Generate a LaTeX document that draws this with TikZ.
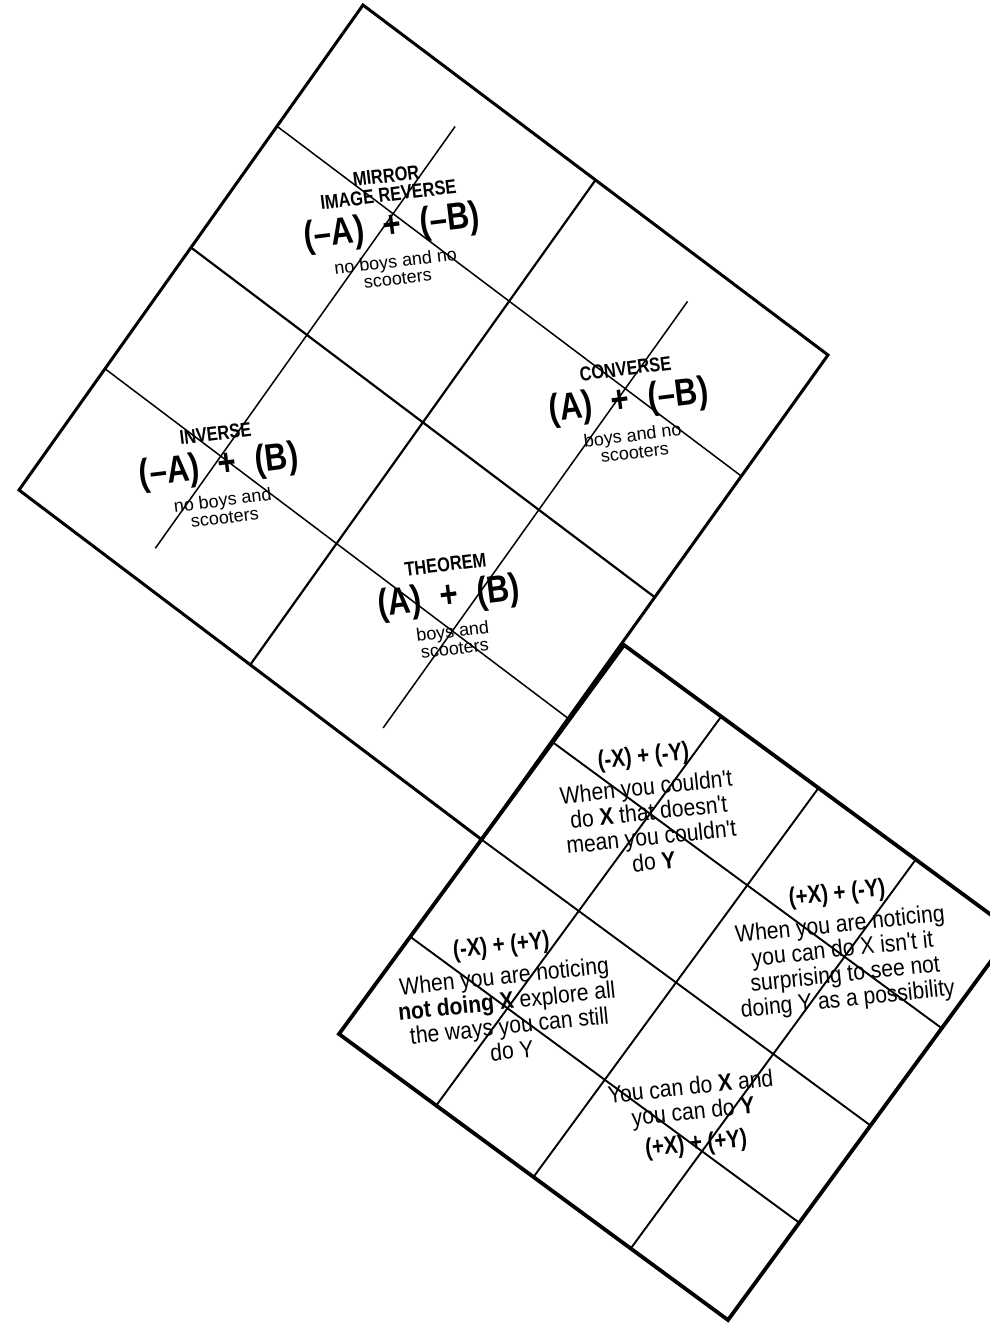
\documentclass[tikz,border=0pt]{standalone}
\usepackage{fontspec}
\setmainfont{Liberation Sans}
\newfontfamily\condfont[FakeStretch=0.82]{Liberation Sans}
\newfontfamily\bodyfont[FakeStretch=0.88]{Liberation Sans}
\usetikzlibrary{calc, positioning}
\newcommand{\pgap}{\hspace{0.5em}}

\begin{document}
\begin{tikzpicture}[
    x=0.5pt, y=-0.5pt,
    outer/.style={line width=1.5pt},
    outerb/.style={line width=1.9pt},
    midline/.style={line width=1.1pt},
    thinline/.style={line width=0.75pt},
    gridline/.style={line width=0.95pt},
    heading/.style={rotate=7, inner sep=1pt, align=center, font=\condfont\bfseries\fontsize{10}{9.5}\selectfont},
    formula/.style={rotate=7, inner sep=1pt, font=\condfont\bfseries\fontsize{19}{20}\selectfont},
    note/.style={rotate=7, inner sep=1pt, align=center, font=\fontsize{9}{8.8}\selectfont},
    caption/.style={rotate=6, inner sep=1pt, font=\condfont\bfseries\fontsize{12.5}{13}\selectfont},
    remark/.style={rotate=6, inner sep=1pt, align=center, font=\bodyfont\fontsize{12}{12.5}\selectfont}
]
    \useasboundingbox (0,0) rectangle (990,1324);
    \clip (0,0) rectangle (990,1324);

    % Corners of the upper square
    \coordinate (T1) at (363,5);
    \coordinate (R1) at (828,355);
    \coordinate (L1) at (19,490);
    % Corners of the lower square
    \coordinate (T2) at (624,645);
    \coordinate (R2) at (1013,931);
    \coordinate (B2) at (728,1320);
    \coordinate (L2) at (339,1034);
    \coordinate (B1) at ($(T2)!0.5!(L2)$);

    % Upper square: middle lines
    \draw[midline] ($(T1)!0.5!(R1)$) -- ($(L1)!0.5!(B1)$);
    \draw[midline] ($(T1)!0.5!(L1)$) -- ($(R1)!0.5!(B1)$);
    % Upper square: quarter lines
    \draw[thinline] ($(T1)!0.25!(L1)$) -- ($(R1)!0.25!(B1)$);
    \draw[thinline] ($(T1)!0.75!(L1)$) -- ($(R1)!0.75!(B1)$);
    \coordinate (uaT) at ($(T1)!0.25!(R1)$);
    \coordinate (uaB) at ($(L1)!0.25!(B1)$);
    \coordinate (ubT) at ($(T1)!0.75!(R1)$);
    \coordinate (ubB) at ($(L1)!0.75!(B1)$);
    \draw[thinline] ($(uaT)!0.07!(uaB)$) -- ($(uaT)!0.94!(uaB)$);
    \draw[thinline] ($(ubT)!0.07!(ubB)$) -- ($(ubT)!0.95!(ubB)$);

    % Lower square: grid
    \draw[gridline] ($(T2)!0.25!(R2)$) -- ($(L2)!0.25!(B2)$);
    \draw[gridline] ($(T2)!0.5!(R2)$) -- ($(L2)!0.5!(B2)$);
    \draw[gridline] ($(T2)!0.75!(R2)$) -- ($(L2)!0.75!(B2)$);
    \draw[gridline] ($(T2)!0.25!(L2)$) -- ($(R2)!0.25!(B2)$);
    \draw[gridline] ($(T2)!0.5!(L2)$) -- ($(R2)!0.5!(B2)$);
    \draw[gridline] ($(T2)!0.75!(L2)$) -- ($(R2)!0.75!(B2)$);

    % Outlines
    \draw[outer] (T1) -- (R1) -- (B1) -- (L1) -- cycle;
    \draw[outerb] (T2) -- (R2) -- (B2) -- (L2) -- cycle;

    % Upper square labels
    \node[formula] (mirrorF) at (392,228) {(–A)\pgap+\pgap(–B)};
    \node[heading, above=2pt of mirrorF] (mirrorH) {MIRROR\\IMAGE REVERSE};
    \node[note, below=2pt of mirrorF] (mirrorN) {no boys and no\\scooters};

    \node[formula] (converseF) at (629,402) {(A)\pgap+\pgap(–B)};
    \node[heading, above=2pt of converseF] (converseH) {CONVERSE};
    \node[note, below=2pt of converseF] (converseN) {boys and no\\scooters};

    \node[formula] (inverseF) at (219,467) {(–A)\pgap+\pgap(B)};
    \node[heading, above=2pt of inverseF] (inverseH) {INVERSE};
    \node[note, below=2pt of inverseF] (inverseN) {no boys and\\scooters};

    \node[formula] (theoremF) at (449,598) {(A)\pgap+\pgap(B)};
    \node[heading, above=2pt of theoremF] (theoremH) {THEOREM};
    \node[note, below=2pt of theoremF] (theoremN) {boys and\\scooters};

    % Lower square labels
    \node[remark] (topR) at (650,824) {When you couldn't\\do \textbf{X} that doesn't\\mean you couldn't\\do \textbf{Y}};
    \node[caption, above=2pt of topR] (topC) {(-X) + (-Y)};

    \node[remark] (rightR) at (844,963) {When you are noticing\\you can do X isn't it\\surprising to see not\\doing Y as a possibility};
    \node[caption, above=2pt of rightR] (rightC) {(+X) + (-Y)};

    \node[remark] (leftR) at (508,1013) {When you are noticing\\\textbf{not doing X} explore all\\the ways you can still\\do Y};
    \node[caption, above=2pt of leftR] (leftC) {(-X) + (+Y)};

    \node[remark] (bottomR) at (692,1101) {You can do \textbf{X} and\\you can do \textbf{Y}};
    \node[caption, below=2pt of bottomR] (bottomC) {(+X) + (+Y)};

\end{tikzpicture}
\end{document}
